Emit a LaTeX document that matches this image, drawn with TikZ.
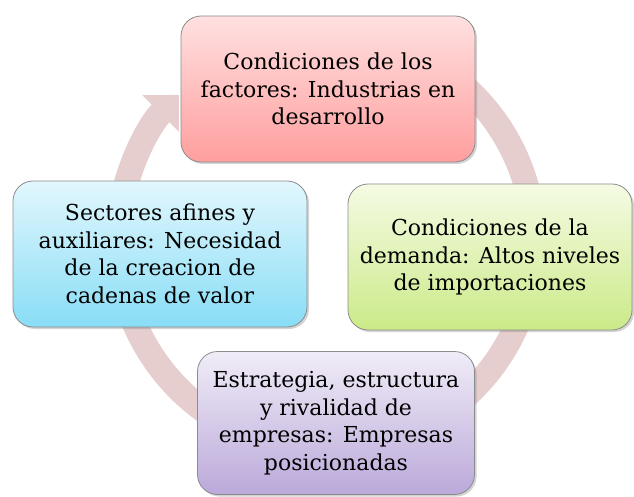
\documentclass[tikz,border=0pt]{standalone}
\usepackage{fontspec}
\setmainfont{DejaVu Serif}
\usepackage{tikz}
\usetikzlibrary{arrows.meta,shadows}
\definecolor{arco}{HTML}{E6CDCE}
\definecolor{rojoA}{HTML}{FFE0E0}
\definecolor{rojoB}{HTML}{FF9E9E}
\definecolor{azulA}{HTML}{E2F7FD}
\definecolor{azulB}{HTML}{88DDF6}
\definecolor{verdeA}{HTML}{F5FBE4}
\definecolor{verdeB}{HTML}{CBEA88}
\definecolor{moradoA}{HTML}{F0ECF7}
\definecolor{moradoB}{HTML}{BBA9DA}

\begin{document}
\begin{tikzpicture}[x=1pt,y=1pt,
  caja/.style={draw=black!45, line width=0.8pt, rounded corners=20pt,
    align=center, minimum height=146pt,
    font=\fontsize{22}{27.5}\selectfont,
    drop shadow={opacity=0.35, shadow xshift=2pt, shadow yshift=-2pt}},
  ciclo/.style={line width=25pt, color=arco}]
\useasboundingbox (0,0) rectangle (634,496);
% flecha circular
\draw[ciclo, -{Triangle[width=50pt,length=26pt]}] (326,254) ++(80:208)
  arc[start angle=80, end angle=-225, radius=208];
\node[caja, minimum width=294pt, top color=rojoA, bottom color=rojoB] (factores) at (328,407)
  {Condiciones de los\\factores: Industrias en\\desarrollo};
\node[caja, minimum width=284pt, top color=verdeA, bottom color=verdeB] (demanda) at (490,239)
  {Condiciones de la\\demanda: Altos niveles\\de importaciones};
\node[caja, minimum width=277pt, minimum height=143pt, top color=moradoA, bottom color=moradoB] (estrategia) at (336,73)
  {Estrategia, estructura\\y rivalidad de\\empresas: Empresas\\posicionadas};
\node[caja, minimum width=294pt, top color=azulA, bottom color=azulB] (sectores) at (160,242)
  {Sectores afines y\\auxiliares: Necesidad\\de la creacion de\\cadenas de valor};
\end{tikzpicture}
\end{document}
